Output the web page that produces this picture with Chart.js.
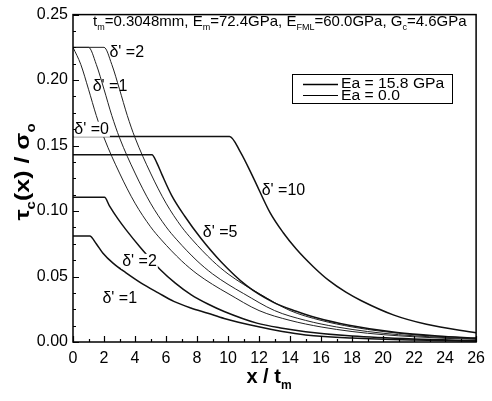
<!DOCTYPE html>
<html>
<head>
<meta charset="utf-8">
<script src="https://cdn.jsdelivr.net/npm/chart.js@4.4.1/dist/chart.umd.min.js"></script>
<style>
  html, body { margin: 0; padding: 0; background: #fff; }
  #wrap { width: 492px; height: 401px; }
</style>
</head>
<body>
<div id="wrap"><canvas id="chart" width="492" height="401"></canvas></div>
<script>
(function () {
    "use strict";

    // Axis ticks
    var xTicks = [0, 2, 4, 6, 8, 10, 12, 14, 16, 18, 20, 22, 24, 26];
    var yTicks = [0, 0.05, 0.10, 0.15, 0.20, 0.25];

    // Ea = 15.8 GPa (solid, heavier)
    var d1X = [0, 1.08, 1.5, 1.92, 2.6, 3.4, 4.4, 5.5, 6.5, 7.6, 8.7, 9.75, 11.9, 13.5, 15, 18, 22, 26];
    var d1Y = [0.081, 0.081, 0.075, 0.068, 0.060, 0.053, 0.045, 0.0375, 0.031, 0.026, 0.022, 0.018, 0.0118, 0.008, 0.0054, 0.003, 0.0015, 0.0008];

    var d2X = [0, 2.03, 2.35, 2.9, 3.4, 4.36, 5.62, 6.6, 7.63, 8.7, 9.75, 11.86, 13.5, 15, 18, 22, 26];
    var d2Y = [0.1105, 0.1105, 0.104, 0.094, 0.086, 0.072, 0.0554, 0.045, 0.036, 0.029, 0.0233, 0.0144, 0.0105, 0.0079, 0.0045, 0.0022, 0.001];

    var d5X = [0, 5.09, 5.4, 5.73, 6.36, 7.21, 8.26, 9.53, 11.2, 12.9, 14.4, 15.7, 17.8, 20.9, 23.5, 26];
    var d5Y = [0.143, 0.143, 0.137, 0.128, 0.112, 0.096, 0.079, 0.0615, 0.0430, 0.0305, 0.0235, 0.0185, 0.0128, 0.0072, 0.0046, 0.003];

    var d10X = [0, 10.1, 10.8, 11.65, 12.7, 13.55, 14.4, 15.5, 16.5, 17.6, 18.6, 20.7, 22.8, 26];
    var d10Y = [0.157, 0.157, 0.145, 0.125, 0.099, 0.0836, 0.071, 0.0575, 0.047, 0.038, 0.0315, 0.0205, 0.0135, 0.007];

    // Ea = 0.0 (thin)
    var e0X = [0, 0.5, 1, 1.5, 2, 3, 4, 5, 5.7, 7, 8, 9, 10, 12, 14, 16, 18, 20, 22, 24, 26];
    var e0Y = [0.225, 0.212, 0.193, 0.173, 0.156, 0.129, 0.106, 0.088, 0.078, 0.062, 0.052, 0.044, 0.037, 0.024, 0.0165, 0.0115, 0.008, 0.0056, 0.004, 0.0028, 0.002];

    var e1X = [0, 1, 1.5, 2, 2.5, 3, 4, 5, 6, 6.7, 8, 9, 10, 11, 13, 15, 17, 19, 21, 23, 25, 26];
    var e1Y = [0.225, 0.225, 0.212, 0.193, 0.173, 0.156, 0.129, 0.106, 0.088, 0.078, 0.062, 0.052, 0.044, 0.037, 0.024, 0.0165, 0.0115, 0.008, 0.0056, 0.004, 0.0028, 0.0025];

    var e2X = [0, 2, 2.5, 3, 3.5, 4, 5, 6, 7, 7.7, 9, 10, 11, 12, 14, 16, 18, 20, 22, 24, 26];
    var e2Y = [0.225, 0.225, 0.212, 0.193, 0.173, 0.156, 0.129, 0.106, 0.088, 0.078, 0.062, 0.052, 0.044, 0.037, 0.024, 0.0165, 0.0115, 0.008, 0.0056, 0.004, 0.0028];

    // Curve labels (data coords, left edge / middle)
    var curveLabels = [
        { text: "\u03b4' =2", x: 2.35, y: 0.221, mask: false },
        { text: "\u03b4' =1", x: 1.27, y: 0.195, mask: false },
        { text: "\u03b4' =0", x: 0.08, y: 0.162, mask: true },
        { text: "\u03b4' =10", x: 12.17, y: 0.1155, mask: false },
        { text: "\u03b4' =5", x: 8.37, y: 0.0833, mask: false },
        { text: "\u03b4' =2", x: 3.17, y: 0.0612, mask: true },
        { text: "\u03b4' =1", x: 1.9, y: 0.0329, mask: false }
    ];

    var FONT = "Arial, 'Liberation Sans', sans-serif";

    function pts(xs, ys) {
        return xs.map(function (v, i) { return { x: v, y: ys[i] }; });
    }

    function solid(data) {
        return { data: data, borderColor: "#111", borderWidth: 1.5, pointRadius: 0, fill: false,
                 cubicInterpolationMode: "monotone" };
    }
    function thin(data) {
        return { data: data, borderColor: "#222", borderWidth: 1, pointRadius: 0, fill: false,
                 cubicInterpolationMode: "monotone" };
    }

    // text with subscripts: parts = [[text, isSub], ...]
    function drawParts(ctx, parts, x, y, size, weight) {
        var cx = x;
        parts.forEach(function (p) {
            var s = p[1] ? Math.round(size * 0.62) : size;
            ctx.font = weight + " " + s + "px " + FONT;
            ctx.fillText(p[0], cx, y + (p[1] ? size * 0.28 : 0));
            cx += ctx.measureText(p[0]).width;
        });
        return cx - x;
    }
    function partsWidth(ctx, parts, size, weight) {
        var w = 0;
        parts.forEach(function (p) {
            var s = p[1] ? Math.round(size * 0.62) : size;
            ctx.font = weight + " " + s + "px " + FONT;
            w += ctx.measureText(p[0]).width;
        });
        return w;
    }

    var decor = {
        id: "decor",
        afterDraw: function (chart) {
            var ctx = chart.ctx, a = chart.chartArea;
            var xs = chart.scales.x, ys = chart.scales.y;
            ctx.save();
            ctx.fillStyle = "#000";
            ctx.textBaseline = "alphabetic";

            // curve labels
            curveLabels.forEach(function (l) {
                ctx.font = "16px " + FONT;
                var px = xs.getPixelForValue(l.x), py = ys.getPixelForValue(l.y);
                var w = ctx.measureText(l.text).width;
                if (l.mask) {
                    ctx.fillStyle = "#fff";
                    ctx.fillRect(px - 1, py - 8, w + 2, 15);
                    ctx.fillStyle = "#000";
                }
                ctx.textBaseline = "middle";
                ctx.fillText(l.text, px, py);
                ctx.textBaseline = "alphabetic";
            });

            // frame
            ctx.strokeStyle = "#000";
            ctx.lineWidth = 1.5;
            ctx.strokeRect(a.left, a.top, a.right - a.left, a.bottom - a.top);

            // inward ticks
            ctx.lineWidth = 1.2;
            ctx.beginPath();
            for (var v = 0; v <= 26; v++) {
                var px = Math.round(xs.getPixelForValue(v)) + 0.5;
                var len = (v % 2 === 0) ? 6 : 3;
                ctx.moveTo(px, a.bottom);
                ctx.lineTo(px, a.bottom - len);
            }
            for (var k = 0; k <= 20; k++) {
                var py = Math.round(ys.getPixelForValue(k * 0.0125)) + 0.5;
                var ylen = (k % 4 === 0) ? 6 : 3;
                ctx.moveTo(a.left, py);
                ctx.lineTo(a.left + ylen, py);
            }
            ctx.stroke();

            // header text
            drawParts(ctx, [["t", 0], ["m", 1], ["=0.3048mm, E", 0], ["m", 1], ["=72.4GPa, E", 0],
                            ["FML", 1], ["=60.0GPa, G", 0], ["c", 1], ["=4.6GPa", 0]],
                      93, a.top + 11.5, 15, "normal");

            // legend
            ctx.lineWidth = 1;
            ctx.strokeRect(292.5, 74.5, 160, 29);
            ctx.beginPath();
            ctx.lineWidth = 1.5;
            ctx.moveTo(303, 84.5); ctx.lineTo(338, 84.5);
            ctx.stroke();
            ctx.beginPath();
            ctx.lineWidth = 1;
            ctx.moveTo(303, 95.5); ctx.lineTo(338, 95.5);
            ctx.stroke();
            ctx.save();
            ctx.translate(341, 0);
            ctx.scale(1.12, 1);
            ctx.font = "14px " + FONT;
            ctx.textBaseline = "alphabetic";
            ctx.fillText("Ea = 15.8 GPa", 0, 88);
            ctx.fillText("Ea = 0.0", 0, 100);
            ctx.restore();

            // x axis title
            var xt = [["x / t", 0], ["m", 1]];
            var xw = partsWidth(ctx, xt, 20, "bold");
            drawParts(ctx, xt, 269 - xw / 2, 383, 20, "bold");

            // y axis title
            var yt = [["\u03c4", 0], ["c", 1], ["(x) / \u03c3", 0], ["o", 1]];
            var yw = partsWidth(ctx, yt, 20, "bold");
            ctx.translate(29, 172);
            ctx.rotate(-Math.PI / 2);
            ctx.scale(1.25, 1);
            drawParts(ctx, yt, -yw / 2, 0, 20, "bold");
            ctx.restore();
        }
    };

    var ctx = document.getElementById("chart").getContext("2d");
    new Chart(ctx, {
        type: "line",
        data: {
            datasets: [
                solid(pts(d1X, d1Y)),
                solid(pts(d2X, d2Y)),
                solid(pts(d5X, d5Y)),
                solid(pts(d10X, d10Y)),
                thin(pts(e0X, e0Y)),
                thin(pts(e1X, e1Y)),
                thin(pts(e2X, e2Y))
            ]
        },
        options: {
            responsive: false,
            animation: false,
            layout: { padding: { left: 0, top: 14, right: 9, bottom: 0 } },
            plugins: { legend: { display: false }, tooltip: { enabled: false } },
            scales: {
                x: {
                    type: "linear", min: 0, max: 26,
                    afterBuildTicks: function (s) { s.ticks = xTicks.map(function (v) { return { value: v }; }); },
                    afterFit: function (s) { s.height = 59; },
                    grid: { display: false, drawTicks: false },
                    border: { display: false },
                    ticks: { color: "#000", padding: 7, maxRotation: 0, autoSkip: false,
                             font: { family: FONT, size: 16 } }
                },
                y: {
                    type: "linear", min: 0, max: 0.25,
                    afterBuildTicks: function (s) { s.ticks = yTicks.map(function (v) { return { value: v }; }); },
                    afterFit: function (s) { s.width = 73; },
                    grid: { display: false, drawTicks: false },
                    border: { display: false },
                    ticks: { color: "#000", padding: 5, autoSkip: false,
                             font: { family: FONT, size: 16 },
                             callback: function (v) { return v.toFixed(2); } }
                }
            }
        },
        plugins: [decor]
    });
})();
</script>
</body>
</html>
